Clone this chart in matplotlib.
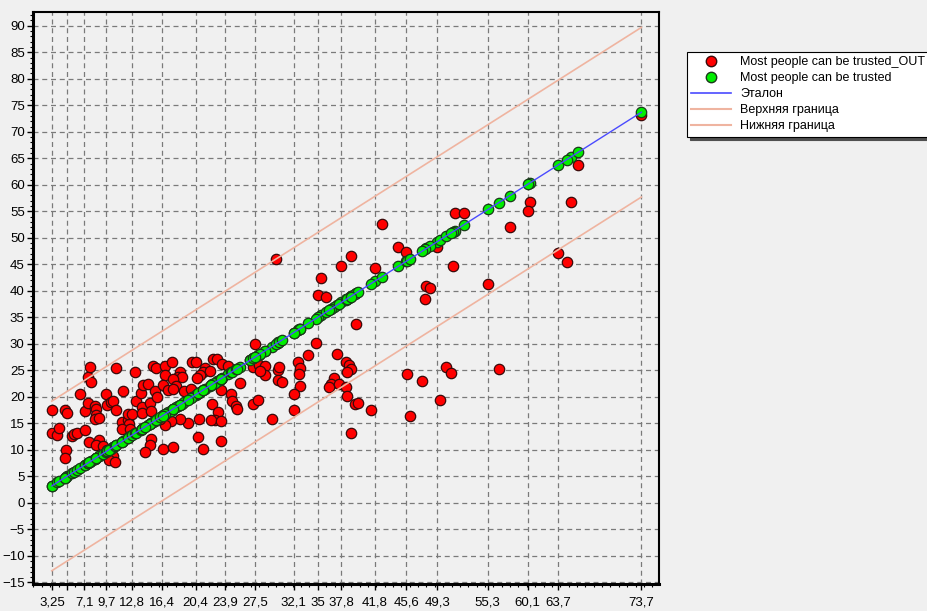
import numpy as np
import matplotlib
matplotlib.use('Agg')
import matplotlib.pyplot as plt
from matplotlib.ticker import MultipleLocator
from matplotlib.lines import Line2D

plt.rcParams['font.family'] = ['Liberation Sans', 'DejaVu Sans']

# фактические значения (ось X) и выход модели (_OUT)
x_vals = [
    3.25, 3.2, 3.85, 4.05, 4.77, 5.04, 4.89, 4.77, 5.57, 5.88, 6.24, 6.56, 7.16, 7.16,
    7.55, 7.76, 7.84, 7.55, 8.35, 8.47, 8.47, 8.35, 8.87, 7.67, 8.87, 8.47, 9.27, 9.67,
    9.75, 10.23, 10.47, 10.86, 9.75, 10.47, 10.03, 10.74, 10.86, 11.66, 11.54, 12.33,
    12.45, 11.54, 12.54, 12.26, 12.74, 13.13, 13.25, 13.81, 14.12, 14.72, 13.93, 13.93,
    14.93, 15.01, 15.32, 15.52, 15.80, 15.01, 14.93, 14.33, 15.64,
    16.72, 17.52, 19.91, 20.39, 22.49, 22.90, 23.49, 24.28, 21.50, 21.29, 22.10, 20.90,
    20.51, 18.51, 18.31, 18.71, 16.72, 17.64, 16.51, 18.03, 17.11, 17.71, 19.02, 19.79,
    25.68, 23.37, 24.61, 24.69, 25.20, 25.29, 22.37, 23.02, 22.69, 22.18, 23.37, 20.82,
    19.50, 18.51, 17.40, 16.72, 16.12, 20.70, 23.37, 21.29, 16.44, 17.64, 27.27, 27.87,
    29.47, 26.88, 27.27, 27.99, 28.67, 28.67, 28.07, 30.26, 30.19, 27.47,
    29.98, 39.03, 37.83, 41.81, 35.44, 35.04, 35.96, 39.63, 34.76, 33.84, 37.24, 32.65,
    32.85, 32.73, 30.38, 30.74, 32.85, 32.13, 32.13, 38.35, 38.71, 39.03, 38.55, 36.95,
    36.56, 36.32, 37.51, 38.43, 38.50, 39.42, 39.82, 41.31, 38.92, 42.69,
    44.60, 45.60, 49.26, 51.37, 52.49, 51.17, 57.95, 60.34, 60.13, 65.24, 66.11, 63.68,
    64.76, 55.35, 47.99, 48.47, 47.87, 45.72, 47.47, 46.08, 49.58, 50.38, 50.89, 56.63,
    73.7,
]
y_out = [
    17.6, 13.2, 12.8, 14.1, 17.6, 16.9, 9.9, 8.5, 12.6, 13.0, 13.2, 20.6, 17.4, 13.7,
    23.8, 25.7, 22.8, 18.9, 18.3, 17.8, 16.5, 15.8, 16.0, 11.5, 11.8, 10.9, 10.7, 20.6,
    18.4, 19.0, 19.2, 17.6, 9.9, 8.8, 8.0, 7.7, 25.5, 21.2, 15.3, 15.6,
    14.8, 13.9, 14.0, 16.7, 16.7, 24.7, 19.2, 20.7, 22.3, 22.4, 18.1, 16.9,
    18.9, 17.3, 25.8, 21.1, 19.9, 12.1, 10.9, 9.6, 25.4,
    25.8, 26.6, 26.5, 26.5, 27.1, 27.1, 26.2, 25.8, 25.5, 24.7, 24.9, 24.2,
    23.5, 24.7, 23.7, 23.7, 24.1, 23.3, 22.3, 22.1, 21.3, 21.4, 21.1, 21.4,
    22.7, 21.3, 20.6, 19.2, 18.3, 17.8, 18.7, 17.2, 15.7, 15.6, 15.5, 15.8,
    15.1, 15.8, 15.5, 14.6, 15.9, 12.4, 11.6, 10.2, 10.2, 10.5, 18.7, 19.5,
    15.8, 26.9, 25.7, 26.0, 25.8, 24.2, 24.9, 25.0, 23.1, 29.9,
    46.0, 46.6, 44.7, 44.4, 42.4, 39.2, 38.8, 33.7, 30.2, 27.9, 28.1, 26.6,
    25.4, 24.3, 25.7, 22.8, 22.0, 20.5, 17.5, 26.6, 26.0, 25.2, 24.7, 23.5,
    22.5, 21.8, 22.4, 21.8, 20.1, 18.7, 18.9, 17.5, 13.2, 52.7,
    48.3, 47.4, 48.2, 54.7, 54.7, 44.7, 52.0, 56.7, 55.1, 56.8, 63.7, 47.1,
    45.4, 41.3, 41.0, 40.5, 38.4, 24.4, 22.9, 16.4, 19.4, 25.7, 24.5, 25.3,
    73.2,
]
band_width = 16.0

x_ticks = [3.25, 5.0, 7.1, 9.7, 12.8, 16.4, 20.4, 23.9, 27.5, 32.1, 35, 37.8,
           41.8, 45.6, 49.3, 55.3, 60.1, 63.7, 73.7]
x_labels = ['3,25', '', '7,1', '9,7', '12,8', '16,4', '20,4', '23,9', '27,5', '32,1',
            '35', '37,8', '41,8', '45,6', '49,3', '55,3', '60,1', '63,7', '73,7']

x = np.array(x_vals)
y = np.array(y_out)
line_x = np.array([x.min(), x.max()])

bg = '#F0F0F0'
fig = plt.figure(figsize=(9.28, 6.11), dpi=100, facecolor=bg)
ax = fig.add_axes([33/928, 1 - 584/611, (659-33)/928, (584-12)/611])
ax.set_facecolor(bg)

ax.scatter(x, y, s=56, c='#FF0000', edgecolors='#3a0a0a', linewidths=0.9, zorder=3)
ax.scatter(x, x, s=56, c='#00EE00', edgecolors='#1a3a1a', linewidths=0.9, zorder=4)
ax.plot(line_x, line_x, color='#4A4AFF', lw=1.0, zorder=5)
ax.plot(line_x, line_x + band_width, color='#EFB4A0', lw=1.2, zorder=5)
ax.plot(line_x, line_x - band_width, color='#EFB4A0', lw=1.2, zorder=5)

ax.set_xlim(0.95, 75.8)
ax.set_ylim(-15.3, 92.6)
ax.set_xticks(x_ticks)
ax.set_xticklabels(x_labels, fontsize=9.5)
ax.set_yticks(np.arange(-15, 91, 5))
ax.tick_params(axis='y', labelsize=9.5, length=4, width=1, pad=2)
ax.tick_params(axis='x', length=4, width=1, pad=5)
ax.yaxis.set_minor_locator(MultipleLocator(1))
ax.xaxis.set_minor_locator(MultipleLocator(1))
ax.tick_params(which='minor', length=2, width=0.8)

ax.grid(True, which='major', color='#7A7A7A', linestyle=(0, (4, 3)), linewidth=0.9)
ax.set_axisbelow(True)

for side in ['top', 'right']:
    ax.spines[side].set_linewidth(1.5)
for side in ['left', 'bottom']:
    ax.spines[side].set_linewidth(2.2)

handles = [
    Line2D([], [], marker='o', ls='', markerfacecolor='#FF0000', markeredgecolor='#3a0a0a', markersize=7.5),
    Line2D([], [], marker='o', ls='', markerfacecolor='#00EE00', markeredgecolor='#1a3a1a', markersize=7.5),
    Line2D([], [], color='#4A4AFF', lw=1.2),
    Line2D([], [], color='#EFB4A0', lw=1.5),
    Line2D([], [], color='#EFB4A0', lw=1.5),
]
labels = ['Most people can be trusted_OUT', 'Most people can be trusted', 'Эталон',
          'Верхняя граница', 'Нижняя граница']
leg = fig.legend(handles, labels, loc='upper left', bbox_to_anchor=(687/928, 1 - 52/611),
                 bbox_transform=fig.transFigure, fontsize=9, frameon=True, fancybox=False,
                 shadow={'color': '#505050', 'alpha': 1.0}, edgecolor='black',
                 facecolor='white', framealpha=1,
                 handlelength=3.2, handletextpad=0.7, labelspacing=0.32, borderpad=0.35,
                 borderaxespad=0)
leg.get_frame().set_linewidth(0.8)

fig.savefig('out.png', dpi=100, facecolor=bg)
